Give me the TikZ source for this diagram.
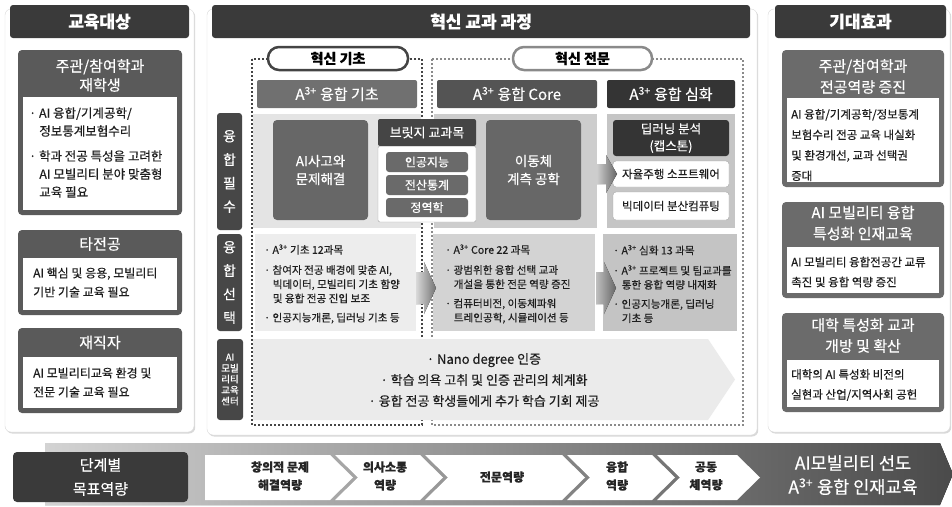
\documentclass[tikz,border=0pt]{standalone}
\usepackage{fontspec}
\setmainfont{Noto Sans CJK KR}[FakeBold=0.35]
\usetikzlibrary{shadows}
\definecolor{hdr}{HTML}{3A3A3A}
\definecolor{lbox}{HTML}{5A5A5A}
\definecolor{rbox}{HTML}{6B6B6B}
\definecolor{colA}{HTML}{707070}
\definecolor{colB}{HTML}{545454}
\definecolor{colC}{HTML}{343434}
\definecolor{lab}{HTML}{474747}
\definecolor{rOneA}{HTML}{E4E4E4}
\definecolor{rOneB}{HTML}{CDCDCD}
\definecolor{rOneC}{HTML}{C5C5C5}
\definecolor{rTwoA}{HTML}{EDEDED}
\definecolor{rTwoB}{HTML}{D3D3D3}
\definecolor{rTwoC}{HTML}{C4C4C4}
\definecolor{rThree}{HTML}{EBEBEB}
\definecolor{midbox}{HTML}{676767}
\definecolor{itembox}{HTML}{6A6A6A}
\definecolor{brh}{HTML}{454545}
\definecolor{txtc}{HTML}{1E1E1E}
\definecolor{pillA}{HTML}{444444}
\definecolor{pillB}{HTML}{8A8A8A}
\definecolor{bandL}{HTML}{D3D3D3}
\definecolor{bandM}{HTML}{A4A4A4}
\definecolor{bandR}{HTML}{4A4A4A}
\newcommand\fs[2]{\fontsize{#1}{#2}\selectfont}
\newcommand\ind{\phantom{·}\hspace*{0.25em}}
\newcommand\bx[6]{\node[#6,anchor=north west,inner sep=0pt,outer sep=0pt,minimum width={(#4-#2)*1pt},minimum height={(#5-#3)*1pt}] (#1) at (#2,#3) {};}
\newcommand\Asup{A\textsuperscript{3+}}
\begin{document}
\begin{tikzpicture}[x=1pt,y=-1pt,
  panel/.style={fill=white,draw=black!15,rounded corners=6pt,drop shadow={opacity=0.3,shadow xshift=1.2pt,shadow yshift=-1.5pt}},
  wt/.style={text=white,inner sep=0pt,align=center},
  bt/.style={text=txtc,inner sep=0pt,align=left,anchor=west},
  ct/.style={text=txtc,inner sep=0pt,align=center},
  pill/.style={fill=white,rounded corners=11pt,line width=2.5pt,inner sep=0pt,minimum height=23pt,font=\bfseries\fs{14}{16}},
  dotbox/.style={line width=1.8pt,dash pattern=on 1.8pt off 2.2pt},
  chev/.style={fill=white},
  ctext/.style={text=black!85,inner sep=0pt,align=center,font=\bfseries\fs{12}{18}}
]
\useasboundingbox (0,0) rectangle (952,506);

% ---------- panels ----------
\bx{pL}{5}{9}{194}{432}{panel}
\bx{pC}{207}{9}{757}{435}{panel}
\bx{pR}{768}{9}{950}{432}{panel}

% ---------- left column ----------
\bx{hL}{10}{5}{189}{38}{fill=hdr,rounded corners=3pt}
\node[wt,font=\bfseries\fs{17}{20}] (hLt) at (hL) {교육대상};

\bx{L1}{18}{50}{182}{215}{fill=lbox,rounded corners=4pt}
\bx{L1w}{23}{97}{177}{210}{fill=white}
\node[wt,font=\fs{15}{19}] (L1t) at (100,75.5) {주관/참여학과\\재학생};
\node[bt,font=\fs{12.5}{18}] (L1b) at (29,152.5) {· AI 융합/기계공학/\\\ind 정보통계보험수리\\[7pt]· 학과 전공 특성을 고려한\\\ind AI 모빌리티 분야 맞춤형\\\ind 교육 필요};

\bx{L2}{18}{230}{182}{315}{fill=lbox,rounded corners=4pt}
\bx{L2w}{23}{258}{177}{310}{fill=white}
\node[wt,font=\fs{15}{19}] (L2t) at (100,244) {타전공};
\node[bt,font=\fs{12}{19}] (L2b) at (33,282.5) {AI 핵심 및 응용, 모빌리티\\기반 기술 교육 필요};

\bx{L3}{18}{328}{182}{413}{fill=lbox,rounded corners=4pt}
\bx{L3w}{23}{357}{177}{408}{fill=white}
\node[wt,font=\fs{15}{19}] (L3t) at (100,342.5) {재직자};
\node[bt,font=\fs{12}{19}] (L3b) at (33,382.5) {AI 모빌리티교육 환경 및\\전문 기술 교육 필요};

% ---------- right column ----------
\bx{hR}{775}{5}{946}{38}{fill=hdr,rounded corners=3pt}
\node[wt,font=\bfseries\fs{17}{20}] (hRt) at (hR) {기대효과};

\bx{R1}{782}{50}{944}{187}{fill=rbox,rounded corners=4pt}
\bx{R1w}{787}{98}{939}{182}{fill=white}
\node[wt,font=\fs{15}{21}] (R1t) at (863,76.5) {주관/참여학과\\전공역량 증진};
\node[bt,font=\fs{11.5}{20.5}] (R1b) at (791,145) {AI 융합/기계공학/정보통계\\보험수리 전공 교육 내실화\\및 환경개선, 교과 선택권\\증대};

\bx{R2}{782}{202}{944}{298}{fill=rbox,rounded corners=4pt}
\bx{R2w}{787}{247}{939}{293}{fill=white}
\node[wt,font=\fs{15}{21}] (R2t) at (863,223) {AI 모빌리티 융합\\특성화 인재교육};
\node[bt,font=\fs{11.5}{20}] (R2b) at (791,272) {AI 모빌리티 융합전공간 교류\\촉진 및 융합 역량 증진};

\bx{R3}{782}{313}{944}{412}{fill=rbox,rounded corners=4pt}
\bx{R3w}{787}{360}{939}{407}{fill=white}
\node[wt,font=\fs{15}{21}] (R3t) at (863,335.5) {대학 특성화 교과\\개방 및 확산};
\node[bt,font=\fs{11.5}{20}] (R3b) at (791,385) {대학의 AI 특성화 비전의\\실현과 산업/지역사회 공헌};

% ---------- center column ----------
\bx{hC}{212}{5}{750}{38}{fill=hdr,rounded corners=3pt}
\node[wt,font=\bfseries\fs{17}{20}] (hCt) at (481,21.5) {혁신 교과 과정};

\draw[dotbox,draw=pillA] (252,59) rectangle (422,425);
\draw[dotbox,draw=pillB] (432,59) rectangle (743,425);

% column headers
\bx{cA}{257}{80}{417}{108}{fill=colA,rounded corners=2pt}
\node[wt,font=\fs{15}{18}] (cAt) at (cA) {\Asup\ 융합 기초};
\bx{cB}{437}{80}{597}{108}{fill=colB,rounded corners=2pt}
\node[wt,font=\fs{15}{18}] (cBt) at (cB) {\Asup\ 융합 Core};
\bx{cC}{607}{80}{735}{108}{fill=colC,rounded corners=2pt}
\node[wt,font=\fs{15}{18}] (cCt) at (cC) {\Asup\ 융합 심화};

% row labels
\bx{rl1}{217}{113}{242}{230}{fill=lab,rounded corners=3pt}
\node[wt,font=\fs{14}{23.5}] (rl1t) at (rl1) {융\\합\\필\\수};
\bx{rl2}{217}{234}{242}{331}{fill=lab,rounded corners=3pt}
\node[wt,font=\fs{14}{23.5}] (rl2t) at (rl2) {융\\합\\선\\택};
\bx{rl3}{217}{339}{243}{420}{fill=lab,rounded corners=3pt}
\node[wt,font=\fs{9.5}{11}] (rl3t) at (rl3) {AI\\모빌\\리티\\교육\\센터};

% row 1
\bx{b1a}{253}{114}{421}{228}{fill=rOneA}
\bx{b1b}{434}{114}{597}{228}{fill=rOneB}
\bx{b1c}{607}{114}{735}{228}{fill=rOneC}

\bx{ai}{273}{120}{368}{220}{fill=midbox,rounded corners=4pt}
\node[wt,font=\fs{13.5}{18}] (ait) at (ai) {AI사고와\\문제해결};

\bx{brB}{378}{146}{476}{222}{fill=white,draw=black!35,rounded corners=2pt}
\bx{brH}{378}{119}{476}{146}{fill=brh,rounded corners=2pt}
\node[wt,font=\fs{13}{16}] (brHt) at (brH) {브릿지 교과목};
\bx{i1}{386}{152}{468}{172}{fill=itembox,rounded corners=3pt}
\node[wt,font=\fs{12}{14}] (i1t) at (i1) {인공지능};
\bx{i2}{386}{175}{468}{195}{fill=itembox,rounded corners=3pt}
\node[wt,font=\fs{12}{14}] (i2t) at (i2) {전산통계};
\bx{i3}{386}{198}{468}{217}{fill=itembox,rounded corners=3pt}
\node[wt,font=\fs{12}{14}] (i3t) at (i3) {정역학};

\bx{mv}{486}{120}{581}{220}{fill=midbox,rounded corners=4pt}
\node[wt,font=\fs{13.5}{18}] (mvt) at (mv) {이동체\\계측 공학};

\bx{dl}{613}{120}{729}{156}{fill=colC,rounded corners=3pt}
\node[wt,font=\fs{12.5}{17}] (dlt) at (dl) {딥러닝 분석\\(캡스톤)};
\bx{sw}{613}{161}{729}{187}{fill=white,draw=black!35,rounded corners=3pt}
\node[ct,font=\fs{11.5}{14}] (swt) at (sw) {자율주행 소프트웨어};
\bx{bd}{613}{192}{729}{220}{fill=white,draw=black!35,rounded corners=3pt}
\node[ct,font=\fs{11.5}{14}] (bdt) at (bd) {빅데이터 분산컴퓨팅};

\fill[left color=black!20,right color=black!60] (597,164)--(606,164)--(606,155)--(617,174)--(606,193)--(606,184)--(597,184)--cycle;

% row 2
\bx{b2a}{255}{234}{416}{331}{fill=rTwoA}
\bx{b2b}{433}{234}{595}{331}{fill=rTwoB}
\bx{b2c}{603}{234}{737}{331}{fill=rTwoC}
\fill[left color=black!15,right color=black!55] (416,272)--(424,272)--(424,262)--(436,288)--(424,314)--(424,304)--(416,304)--cycle;
\fill[left color=black!25,right color=black!60] (596,272)--(604,272)--(604,262)--(616,288)--(604,314)--(604,304)--(596,304)--cycle;

\node[bt,font=\fs{10.6}{14.2}] (b2at) at (264,284) {· \Asup\ 기초 12과목\\[6pt]· 참여자 전공 배경에 맞춘 AI,\\\ind 빅데이터, 모빌리티 기초 함양\\\ind 및 융합 전공 진입 보조\\[5pt]· 인공지능개론, 딥러닝 기초 등};
\node[bt,font=\fs{10.6}{14.2}] (b2bt) at (445,284) {· \Asup\ Core 22 과목\\[6pt]· 광범위한 융합 선택 교과\\\ind 개설을 통한 전문 역량 증진\\[5pt]· 컴퓨터비전, 이동체파워\\\ind 트레인공학, 시뮬레이션 등};
\node[bt,font=\fs{10.6}{14.2}] (b2ct) at (613,284) {· \Asup\ 심화 13 과목\\[6pt]· \Asup\ 프로젝트 및 팀교과를\\\ind 통한 융합 역량 내재화\\[5pt]· 인공지능개론, 딥러닝\\\ind 기초 등};

% row 3
\fill[rThree] (253,339)--(708,339)--(735,379.5)--(708,420)--(253,420)--cycle;
\node[ct,font=\fs{13}{21}] (r3t) at (484,380) {· Nano degree 인증\\· 학습 의욕 고취 및 인증 관리의 체계화\\· 융합 전공 학생들에게 추가 학습 기회 제공};

% pills
\node[pill,draw=pillA,minimum width=140pt] (p1) at (338,58.5) {혁신 기초};
\node[pill,draw=pillB,minimum width=139pt] (p2) at (582.5,58.5) {혁신 전문};

% ---------- bottom band ----------
\fill[left color=bandL,middle color=bandM,right color=bandR] (45,443)--(940,443)--(953,474)--(940,505)--(45,505)--cycle;
\bx{goal}{13}{452}{188}{502}{fill=hdr,rounded corners=4pt}
\node[wt,font=\fs{15}{24}] (goalt) at (goal) {단계별\\목표역량};

\fill[chev] (205,455)--(330,455)--(353,477.5)--(330,500)--(205,500)--cycle;
\fill[chev] (335,455)--(420,455)--(443,477.5)--(420,500)--(335,500)--(358,477.5)--cycle;
\fill[chev] (425,455)--(562,455)--(585,477.5)--(562,500)--(425,500)--(448,477.5)--cycle;
\fill[chev] (567,455)--(652,455)--(675,477.5)--(652,500)--(567,500)--(590,477.5)--cycle;
\fill[chev] (657,455)--(737,455)--(760,477.5)--(737,500)--(657,500)--(680,477.5)--cycle;

\node[ctext] (s1) at (280,476) {창의적 문제\\해결역량};
\node[ctext] (s2) at (385,476) {의사소통\\역량};
\node[ctext] (s3) at (502,477) {전문역량};
\node[ctext] (s4) at (617,476) {융합\\역량};
\node[ctext] (s5) at (706,476) {공동\\체역량};
\node[wt,font=\fs{17.5}{24}] (fin) at (853,475) {AI모빌리티 선도\\\Asup\ 융합 인재교육};
\end{tikzpicture}
\end{document}
